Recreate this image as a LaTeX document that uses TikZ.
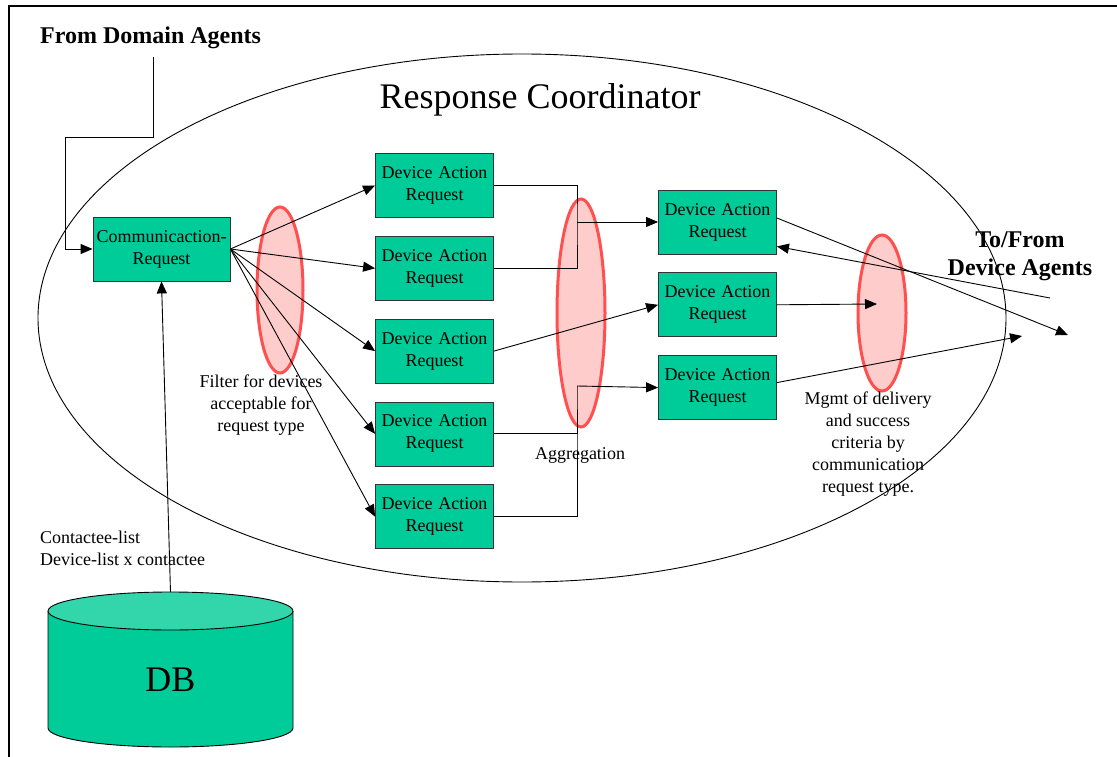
\documentclass[tikz,border=0pt]{standalone}
\usepackage{fontspec}
\setmainfont{Liberation Serif}
\usepackage{xcolor}
\usetikzlibrary{shapes.geometric, arrows.meta, positioning}
\definecolor{dagreen}{RGB}{0,204,153}
\definecolor{dbtopgreen}{RGB}{51,214,170}
\definecolor{zonered}{RGB}{255,80,80}
\definecolor{zonefill}{RGB}{255,204,204}
\tikzset{
  block/.style={rectangle, draw=black!80, line width=0.8pt,
                fill=dagreen, text width=114pt, align=center,
                minimum width=118pt, minimum height=64pt, inner sep=0pt,
                font=\fontsize{18}{22}\selectfont},
  blockwide/.style={block, text width=135pt, minimum width=137pt},
  zone/.style={ellipse, draw=zonered, line width=3pt, fill=zonefill,
               minimum width=46pt, inner sep=0pt},
  note/.style={inner sep=0pt, font=\fontsize{18}{22}\selectfont},
  headline/.style={inner sep=0pt, font=\bfseries\fontsize{24}{28}\selectfont},
  arrow/.style={-{Triangle[length=12pt, width=10pt]}, line width=0.9pt},
  link/.style={line width=0.9pt},
}
\begin{document}
\begin{tikzpicture}[x=1pt, y=-1pt]
  \useasboundingbox (0,0) rectangle (1117,757);
  % Frame
  \draw[line width=1.6pt] (9,757) -- (9,6) -- (1117,6);

  % Coordinator and zones
  \draw[link] (522,318) ellipse [x radius=484pt, y radius=264pt];
  \node[font=\fontsize{36}{40}\selectfont] (title) at (540,100)
    {Response Coordinator};
  \node[zone, minimum height=166pt] (filterzone) at (280,290) {};
  \node[zone, minimum width=48pt, minimum height=228pt] (aggzone)
    at (581,313) {};
  \node[zone, minimum width=48pt, minimum height=156pt] (mgmtzone)
    at (882,313) {};

  % Input
  \node[headline, anchor=west] (from) at (40,38) {From Domain Agents};
  \node[blockwide] (comm) at (161.5,249) {Communicaction-\\Request};
  \coordinate (fromfoot) at (153,57);
  \coordinate (bend) at (65,137);
  \draw[arrow] (fromfoot) |- (bend) |- (comm.west);

  % First column
  \node[block] (dar1) at (434.5,185.5) {Device Action\\Request};
  \node[block, below=18pt of dar1] (dar2) {Device Action\\Request};
  \node[block, below=18pt of dar2] (dar3) {Device Action\\Request};
  \node[block, below=18pt of dar3] (dar4) {Device Action\\Request};
  \node[block, below=18pt of dar4] (dar5) {Device Action\\Request};

  \draw[arrow] (comm.east) -- (dar1.west);
  \draw[arrow] (comm.east) -- (dar2.west);
  \draw[arrow] (comm.east) -- (dar3.west);
  \draw[arrow] (comm.east) -- (dar4.west);
  \draw[arrow] (comm.east) -- (dar5.west);

  % Second column
  \node[block] (daA) at (717.5,222) {Device Action\\Request};
  \node[block, below=18pt of daA] (daB) {Device Action\\Request};
  \node[block, below=18pt of daB] (daC) {Device Action\\Request};

  \coordinate (mergeA) at (577,222);
  \coordinate (mergeC) at (577,386);
  \draw[link] (dar1.east) -| (mergeA) |- (dar2.east);
  \draw[arrow] (mergeA) -- (daA.west);
  \draw[arrow] (dar3.east) -- (daB.west);
  \draw[link] (dar4.east) -| (mergeC) |- (dar5.east);
  \draw[arrow] (mergeC) -- (daC.west);

  % Output
  \node[headline, align=center] (tofrom) at (1020,256)
    {To/From\\Device Agents};
  \coordinate (outA) at (1068,335);
  \coordinate (inA) at (1050,298);
  \coordinate (outB) at (877,304);
  \coordinate (outC) at (1022,336);
  \draw[arrow] ([yshift=4pt]daA.east) -- (outA);
  \draw[arrow] (inA) -- ([yshift=8pt]daA.south east);
  \draw[arrow] (daB.east) -- (outB);
  \draw[arrow] ([yshift=5pt]daC.east) -- (outC);

  % Notes
  \node[note, align=center] (filter) at (261,405)
    {Filter for devices\\acceptable for\\request type};
  \node[note] (aggr) at (580,455) {Aggregation};
  \node[note, align=center] (mgmt) at (868,444)
    {Mgmt of delivery\\and success\\criteria by\\communication\\request type.};
  \node[note, align=left, anchor=west] (dblist) at (40,548)
    {Contactee-list\\Device-list x contactee};

  % Database
  \fill[dagreen] (48,611) -- (48,728)
    arc[start angle=180, end angle=360, x radius=122.5pt, y radius=19pt]
    -- (293,611) -- cycle;
  \draw[link] (48,611) -- (48,728)
    arc[start angle=180, end angle=360, x radius=122.5pt, y radius=19pt]
    -- (293,611);
  \filldraw[link, fill=dbtopgreen] (170.5,611)
    ellipse [x radius=122.5pt, y radius=19pt];
  \node[font=\fontsize{36}{40}\selectfont] (db) at (170.5,680) {DB};
  \coordinate (dbtop) at (170.5,592);
  \draw[arrow] (dbtop) -- (comm.south);
\end{tikzpicture}
\end{document}
